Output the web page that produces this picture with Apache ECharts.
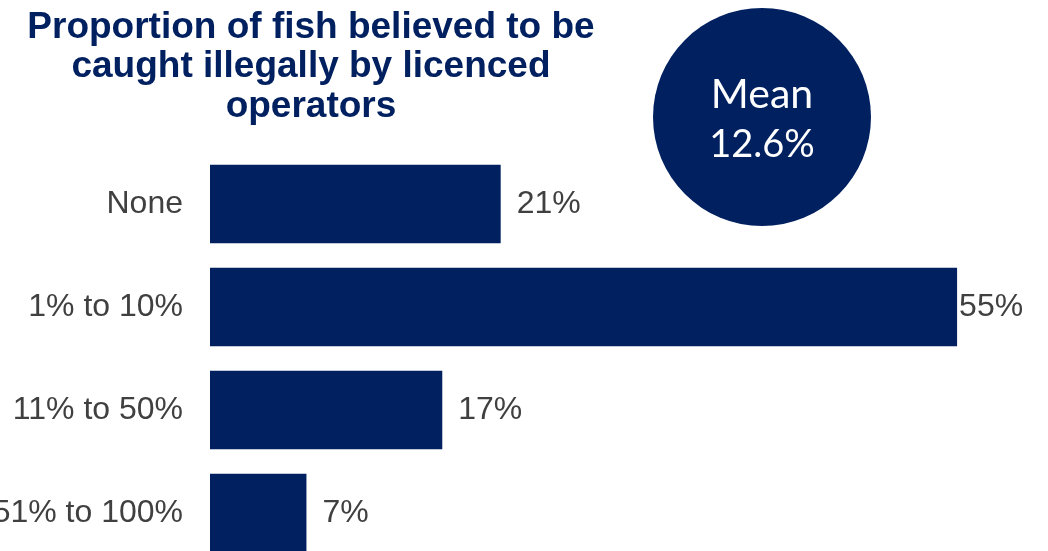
<!DOCTYPE html>
<html>
<head>
<meta charset="utf-8">
<script src="https://cdn.jsdelivr.net/npm/echarts@6/dist/echarts.min.js"></script>
<style>
html,body{margin:0;padding:0;background:#fff;overflow:hidden;}
#chart{width:1048px;height:600px;}
</style>
</head>
<body>
<div id="chart"></div>
<script>
var titleLines = ['Proportion of fish believed to be', 'caught illegally by licenced', 'operators'];
var categories = ['None', '1% to 10%', '11% to 50%', '51% to 100%'];
// bar lengths (labels are shown rounded)
var values = [21.4, 55, 17.1, 7.1];
var meanLabel = 'Mean';
var meanValue = '12.6%';

var navy = '#002060';
var chart = echarts.init(document.getElementById('chart'), null, {renderer: 'canvas'});
chart.setOption({
  animation: false,
  backgroundColor: '#ffffff',
  title: {
    text: titleLines.join('\n'),
    left: 306,
    textAlign: 'center',
    top: 3,
    textStyle: {
      fontFamily: 'Liberation Sans, Arial, sans-serif',
      fontWeight: 'bold',
      fontSize: 37,
      lineHeight: 39.5,
      color: navy
    }
  },
  grid: {left: 210, top: 152.5, width: 815, height: 412, containLabel: false, outerBoundsMode: 'none'},
  xAxis: {
    type: 'value', min: 0, max: 60, show: false
  },
  yAxis: {
    type: 'category', data: categories, inverse: true,
    axisLine: {show: false}, axisTick: {show: false},
    axisLabel: {
      margin: 27,
      fontFamily: 'Liberation Sans, Arial, sans-serif',
      fontSize: 32, color: '#404040'
    }
  },
  series: [{
    type: 'bar',
    data: values.map(function (v, i) {
      return {value: v, label: {distance: v >= 50 ? 2 : 16}};
    }),
    barCategoryGap: '24%',
    itemStyle: {color: navy},
    label: {
      show: true, position: 'right',
      formatter: function (p) { return Math.round(p.value) + '%'; },
      fontFamily: 'Liberation Sans, Arial, sans-serif',
      fontSize: 32, color: '#404040'
    }
  }],
  graphic: [{
    type: 'group',
    left: 653, top: 8,
    children: [{
      type: 'circle',
      shape: {cx: 109, cy: 109, r: 109},
      style: {fill: navy}
    }, {
      type: 'text',
      x: 109, y: 87,
      style: {
        text: meanLabel, fill: '#ffffff', align: 'center', verticalAlign: 'middle',
        font: '41px Lato, "Open Sans", sans-serif'
      }
    }, {
      type: 'text',
      x: 109, y: 137,
      style: {
        text: meanValue, fill: '#ffffff', align: 'center', verticalAlign: 'middle',
        font: '38px Lato, "Open Sans", sans-serif'
      }
    }]
  }]
});
</script>
</body>
</html>
